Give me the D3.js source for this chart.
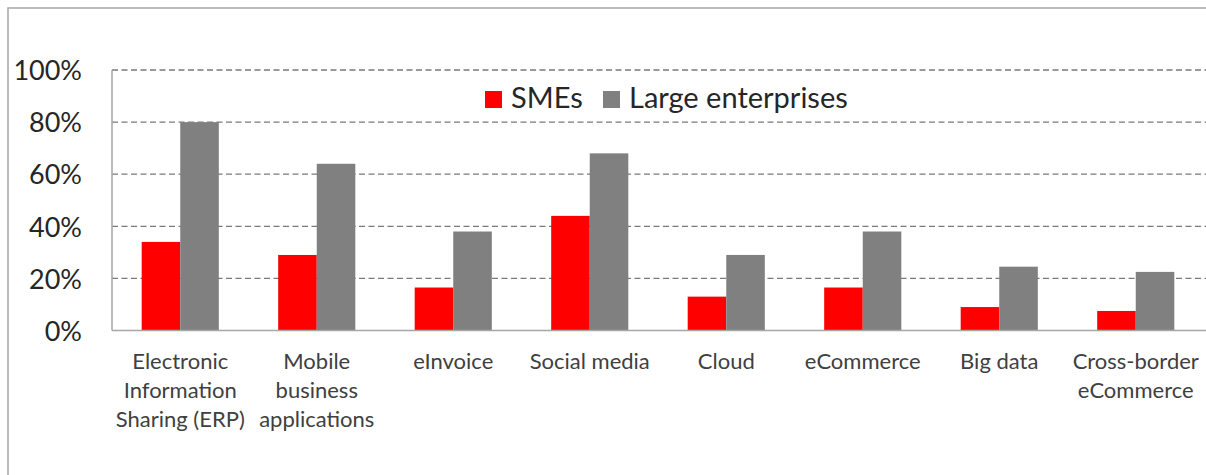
<!DOCTYPE html>
<html>
<head>
<meta charset="utf-8">
<script src="https://cdn.jsdelivr.net/npm/d3@7/dist/d3.min.js"></script>
<style>
  html, body { margin: 0; padding: 0; background: #fff; }
  svg { display: block; }
  text { font-family: Lato, "Open Sans", sans-serif; }
</style>
</head>
<body>
<svg id="chart" width="1206" height="475"></svg>
<script>
const categories = [
  ["Electronic", "Information", "Sharing (ERP)"],
  ["Mobile", "business", "applications"],
  ["eInvoice"],
  ["Social media"],
  ["Cloud"],
  ["eCommerce"],
  ["Big data"],
  ["Cross-border", "eCommerce"]
];
const categoryKeys = categories.map(c => c.join(" "));
const smes = [34, 29, 16.5, 44, 13, 16.5, 9, 7.5];
const large = [80, 64, 38, 68, 29, 38, 24.5, 22.5];
const seriesNames = ["SMEs", "Large enterprises"];
const seriesColors = ["#ff0000", "#808080"];
const yTicks = [0, 20, 40, 60, 80, 100];

const svg = d3.select("#chart");

// outer frame
svg.append("rect")
  .attr("x", 8).attr("y", 8)
  .attr("width", 1206).attr("height", 480)
  .attr("fill", "none").attr("stroke", "#a6a6a6").attr("stroke-width", 1.5);

const margin = { left: 112, right: 1204, top: 70, bottom: 330.5 };

const x = d3.scaleBand()
  .domain(categoryKeys)
  .range([margin.left, margin.right])
  .paddingInner(0.435)
  .paddingOuter(0.2175);

const sub = d3.scaleBand()
  .domain(seriesNames)
  .range([0, x.bandwidth()]);

const y = d3.scaleLinear().domain([0, 100]).range([margin.bottom, margin.top]);

// grid
const grid = svg.append("g");
grid.selectAll("line")
  .data(yTicks.filter(d => d > 0))
  .join("line")
  .attr("x1", margin.left).attr("x2", 1206)
  .attr("y1", d => y(d)).attr("y2", d => y(d))
  .attr("stroke", "#7a7a7a")
  .attr("stroke-width", 1.3)
  .attr("stroke-dasharray", "6,3.5");

// y axis labels
const yAxis = d3.axisLeft(y).tickValues(yTicks).tickFormat(d => d + "%").tickSize(0).tickPadding(30);
const yg = svg.append("g").attr("transform", `translate(${margin.left},0)`).call(yAxis);
yg.select(".domain").remove();
yg.selectAll("text")
  .attr("font-size", 27)
  .attr("fill", "#262626")
  .attr("font-family", "Lato, sans-serif")
  .attr("dy", "0.36em");

// bars
const data = categoryKeys.map((k, i) => ({ key: k, vals: [smes[i], large[i]] }));
const groups = svg.append("g").selectAll("g")
  .data(data)
  .join("g")
  .attr("transform", d => `translate(${x(d.key)},0)`);
groups.selectAll("rect")
  .data(d => d.vals.map((v, j) => ({ name: seriesNames[j], v, j })))
  .join("rect")
  .attr("x", d => sub(d.name))
  .attr("width", sub.bandwidth())
  .attr("y", d => y(d.v))
  .attr("height", d => y(0) - y(d.v))
  .attr("fill", d => seriesColors[d.j]);

// axes lines
svg.append("line")
  .attr("x1", margin.left).attr("x2", margin.left)
  .attr("y1", y(100)).attr("y2", y(0))
  .attr("stroke", "#a6a6a6").attr("stroke-width", 1.5);
svg.append("line")
  .attr("x1", margin.left).attr("x2", 1206)
  .attr("y1", y(0)).attr("y2", y(0))
  .attr("stroke", "#a6a6a6").attr("stroke-width", 1.5);

// category labels
const labels = svg.append("g").selectAll("text")
  .data(categories)
  .join("text")
  .attr("text-anchor", "middle")
  .attr("font-size", 22)
  .attr("fill", "#404040")
  .attr("x", (d, i) => x(categoryKeys[i]) + x.bandwidth() / 2)
  .attr("y", 369);
labels.selectAll("tspan")
  .data(d => d)
  .join("tspan")
  .attr("x", function() { return d3.select(this.parentNode).attr("x"); })
  .attr("dy", (d, i) => i === 0 ? 0 : 29)
  .text(d => d);

// legend
const legend = svg.append("g");
const legendItems = [
  { name: "SMEs", color: seriesColors[0], x: 485 },
  { name: "Large enterprises", color: seriesColors[1], x: 603 }
];
legendItems.forEach(it => {
  legend.append("rect")
    .attr("x", it.x).attr("y", 91)
    .attr("width", 17).attr("height", 17)
    .attr("fill", it.color);
  legend.append("text")
    .attr("x", it.x + 26).attr("y", 108)
    .attr("font-size", 29)
    .attr("fill", "#262626")
    .text(it.name);
});
</script>
</body>
</html>
